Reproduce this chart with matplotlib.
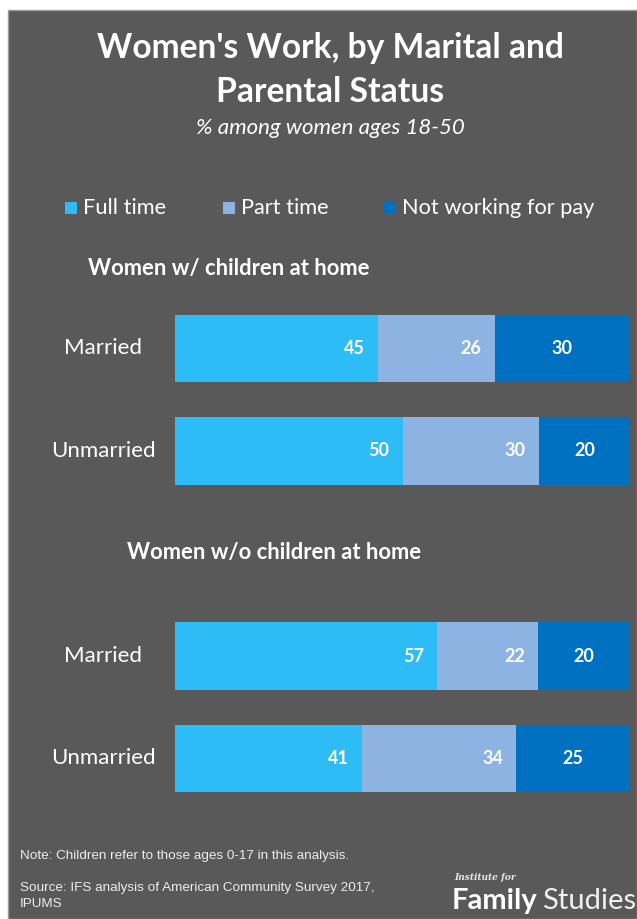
import matplotlib.pyplot as plt
from matplotlib.patches import Rectangle
from matplotlib.transforms import blended_transform_factory

# data
rows = ["Married", "Unmarried", "Married", "Unmarried"]
full_time = [45, 50, 57, 41]
part_time = [26, 30, 22, 34]
not_working = [30, 20, 20, 25]
series_names = ["Full time", "Part time", "Not working for pay"]
colors = ["#2DBCF6", "#8DB3E2", "#0070C0"]
row_pos = [0, 1, 3, 4]

BG = "#595959"
W, H = 637, 919
FONT = "Lato"


def fx(x):
    return x / W


def fy(y):
    return 1 - y / H


fig = plt.figure(figsize=(W / 100, H / 100), dpi=100, facecolor="white")
fig.patches.append(Rectangle((fx(8), 0), 1 - fx(8), fy(10), transform=fig.transFigure,
                             facecolor=BG, edgecolor="#9a9a9a", linewidth=1.0, zorder=-5))

ax = fig.add_axes([fx(175), fy(809.75), fx(630) - fx(175), 512.5 / H])
ax.set_facecolor("none")
ax.set_zorder(2)

# 100% stacked bars
totals = [a + b + c for a, b, c in zip(full_time, part_time, not_working)]
left = [0.0] * len(rows)
for name, vals, col in zip(series_names, [full_time, part_time, not_working], colors):
    widths = [v / t for v, t in zip(vals, totals)]
    bars = ax.barh(row_pos, widths, left=left, height=0.655, color=col, label=name,
                   edgecolor="none")
    for b, v in zip(bars, vals):
        yc = b.get_y() + b.get_height() / 2
        if name == "Not working for pay":
            ax.text(b.get_x() + b.get_width() / 2, yc, str(v), ha="center", va="center",
                    color="white", fontsize=13, fontweight="bold", family=FONT)
        else:
            ax.annotate(str(v), (b.get_x() + b.get_width(), yc), xytext=(-9.5, 0),
                        textcoords="offset points", ha="right", va="center",
                        color="white", fontsize=13, fontweight="bold", family=FONT)
    left = [l + w for l, w in zip(left, widths)]

ax.set_xlim(0, 1)
ax.set_ylim(4.5, -0.5)
ax.axis("off")

# category labels
trans = blended_transform_factory(fig.transFigure, ax.transData)
for p, lab in zip(row_pos, rows):
    ax.text(fx(103), p, lab, transform=trans, ha="center", va="center",
            color="white", fontsize=16, family=FONT, clip_on=False)

# titles
fig.text(0.518, fy(48), "Women's Work, by Marital and", ha="center", va="center",
         color="white", fontsize=24.2, fontweight="bold", family=FONT)
fig.text(0.518, fy(92), "Parental Status", ha="center", va="center",
         color="white", fontsize=24.2, fontweight="bold", family=FONT)
fig.text(0.518, fy(128), "% among women ages 18-50", ha="center", va="center",
         color="white", fontsize=16, style="italic", family=FONT)

# legend
leg_x = [65, 223, 384]
for x, name, col in zip(leg_x, series_names, colors):
    fig.patches.append(Rectangle((fx(x), fy(214)), fx(12), 12 / H, transform=fig.transFigure,
                                 facecolor=col, edgecolor="none"))
    fig.text(fx(x + 18), fy(208), name, ha="left", va="center", color="white",
             fontsize=15.7, family=FONT)

# section headers
fig.text(fx(88), fy(269), "Women w/ children at home", ha="left", va="center",
         color="white", fontsize=15.8, fontweight="bold", family=FONT)
fig.text(fx(127), fy(552), "Women w/o children at home", ha="left", va="center",
         color="white", fontsize=15.8, fontweight="bold", family=FONT)

# notes
note_kw = dict(ha="left", va="center", color="#ececec", fontsize=9.7, family="Liberation Sans")
fig.text(fx(20), fy(856), "Note: Children refer to those ages 0-17 in this analysis.", **note_kw)
fig.text(fx(20), fy(888), "Source: IFS analysis of American Community Survey 2017,", **note_kw)
fig.text(fx(20), fy(904), "IPUMS", **note_kw)

# logo
fig.text(fx(454), fy(877), "Institute for", ha="left", va="center", color="#e6e6e6",
         fontsize=6.5, style="italic", fontweight="bold", family="DejaVu Serif")
fig.text(fx(452), fy(901), "Family", ha="left", va="center", color="white",
         fontsize=21, fontweight="bold", family=FONT)
fig.text(fx(542), fy(901), "Studies", ha="left", va="center", color="#f0f0f0",
         fontsize=21, family=FONT)

fig.savefig("out.png", dpi=100, facecolor=fig.get_facecolor())
